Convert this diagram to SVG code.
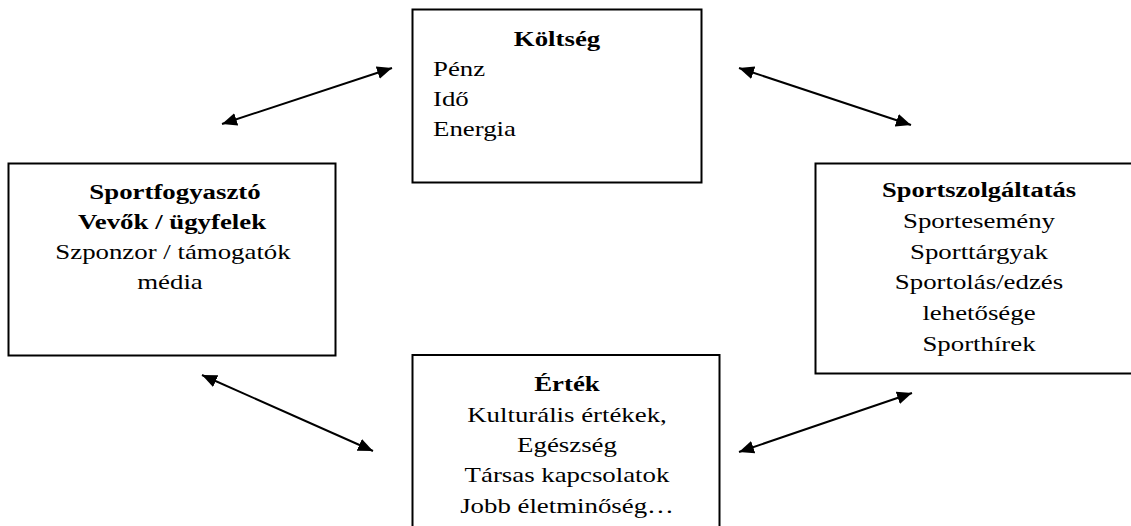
<svg xmlns="http://www.w3.org/2000/svg" width="1131" height="526" viewBox="0 0 1131 526">
<style>
.box{fill:#fff;stroke:#000;stroke-width:2}
.t{font-family:"Liberation Serif","Times New Roman",serif;font-size:22px;fill:#000}
.c{text-anchor:middle}
.b{font-weight:bold}
.con{stroke:#000;stroke-width:2;fill:none;marker-start:url(#ah);marker-end:url(#ah)}
</style>
<defs>
<marker id="ah" markerUnits="userSpaceOnUse" markerWidth="16" markerHeight="14" refX="15" refY="6.5" orient="auto-start-reverse" viewBox="0 0 16 14">
<path d="M0,0 L15,6.5 L0,13 z" fill="#000"/>
</marker>
</defs>
<rect width="1131" height="526" fill="#fff"/>
<g id="connectors">
<line class="con" x1="222" y1="124" x2="392" y2="68"/>
<line class="con" x1="739" y1="68" x2="911" y2="125"/>
<line class="con" x1="202" y1="375" x2="373" y2="451"/>
<line class="con" x1="912" y1="393" x2="739" y2="452"/>
</g>
<g id="koltseg">
<rect class="box" x="412.5" y="9.5" width="289" height="173"/>
<text class="t b c" transform="translate(557,46) scale(1.22,1)">Költség</text>
<text class="t" transform="translate(433,76) scale(1.22,1)">Pénz</text>
<text class="t" transform="translate(433,106) scale(1.22,1)">Idő</text>
<text class="t" transform="translate(433,136) scale(1.22,1)">Energia</text>
</g>
<g id="sportfogyaszto">
<rect class="box" x="8.5" y="163.5" width="327" height="192"/>
<text class="t b c" transform="translate(175,199) scale(1.22,1)">Sportfogyasztó</text>
<text class="t b c" transform="translate(172,229) scale(1.22,1)">Vevők / ügyfelek</text>
<text class="t c" transform="translate(173,259) scale(1.22,1)">Szponzor / támogatók</text>
<text class="t c" transform="translate(170,289) scale(1.22,1)">média</text>
</g>
<g id="sportszolgaltatas">
<rect class="box" x="815.5" y="163.5" width="340" height="210"/>
<text class="t b c" transform="translate(979,197) scale(1.22,1)" textLength="159" lengthAdjust="spacingAndGlyphs">Sportszolgáltatás</text>
<text class="t c" transform="translate(979,228) scale(1.22,1)">Sportesemény</text>
<text class="t c" transform="translate(979,259) scale(1.22,1)">Sporttárgyak</text>
<text class="t c" transform="translate(979,289) scale(1.22,1)">Sportolás/edzés</text>
<text class="t c" transform="translate(979,320) scale(1.22,1)">lehetősége</text>
<text class="t c" transform="translate(979,351) scale(1.22,1)">Sporthírek</text>
</g>
<g id="ertek">
<rect class="box" x="412.5" y="355" width="307" height="200"/>
<text class="t b c" transform="translate(567,391) scale(1.22,1)">Érték</text>
<text class="t c" transform="translate(567,421.5) scale(1.22,1)">Kulturális értékek,</text>
<text class="t c" transform="translate(567,452) scale(1.22,1)">Egészség</text>
<text class="t c" transform="translate(567,482) scale(1.22,1)">Társas kapcsolatok</text>
<text class="t c" transform="translate(567,512.5) scale(1.22,1)">Jobb életminőség…</text>
</g>
</svg>
